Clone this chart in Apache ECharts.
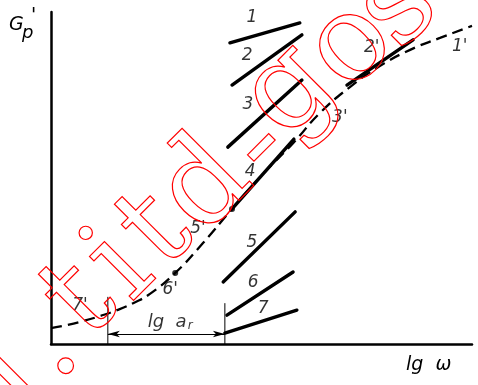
<!DOCTYPE html>
<html><head><meta charset="utf-8">
<script src="https://cdn.jsdelivr.net/npm/echarts@6/dist/echarts.min.js"></script>
<style>html,body{margin:0;padding:0;background:#fff}#c{width:478px;height:385px}</style>
</head><body><div id="c"></div>
<script>
// dashed reference curve (lg omega vs G'p), arbitrary units 0..10
const curveX = [0, 0.38, 0.76, 1.16, 1.57, 1.95, 2.35, 2.95, 3.61, 4.30, 5.01, 5.75, 6.39, 7.10, 7.81, 8.53, 9.24, 10.0];
const curveY = [0.48, 0.57, 0.69, 0.84, 1.02, 1.23, 1.51, 2.14, 3.04, 4.07, 5.09, 6.05, 6.96, 7.74, 8.37, 8.86, 9.22, 9.58];
// solid segments
const segNames = ['1', '2', '3', '4', '5', '6', '7', "2'"];
const segX = [[4.25, 5.91], [4.30, 5.96], [4.20, 5.96], [4.30, 5.77], [4.09, 5.80], [4.18, 5.75], [4.13, 5.84], [7.03, 8.60]];
const segY = [[9.07, 9.67], [7.80, 9.31], [5.93, 7.95], [4.07, 6.17], [1.87, 3.98], [0.87, 2.17], [0.33, 1.02], [7.80, 9.16]];
// marked points on the curve
const dotX = [2.95, 4.30];
const dotY = [2.14, 4.07];
// curve labels
const labelText = ['1', '2', '3', '4', '5', '6', '7', "1'", "2'", "3'", "5'", "6'", "7'"];
const labelX = [4.77, 4.66, 4.68, 4.73, 4.77, 4.80, 5.04, 9.71, 7.62, 6.86, 3.49, 2.83, 0.69];
const labelY = [9.82, 8.70, 7.20, 5.18, 3.04, 1.84, 1.08, 8.95, 8.92, 6.81, 3.49, 1.63, 1.17];
// lg a_r interval
const arX = [1.35, 4.13];
const arTop = [1.42, 1.23];
const arY = 0.30;
const arLabelX = 2.83, arLabelY = 0.66;

// watermark characters (decoration)
const wmChars = ['1', '.', 't', 'i', 't', 'd', '-', 'g', 'o', 's', 't'];
const wmPos = [[22, 388], [48, 348], [82, 302], [122, 268], [158, 232], [207, 188], [262, 148], [290, 92], [352, 47], [399, 9], [440, -30]];

const chart = echarts.init(document.getElementById('c'), null, {renderer: 'canvas'});
const series = [];
series.push({
  type: 'line', data: curveX.map((x, i) => [x, curveY[i]]), smooth: true, symbol: 'none',
  lineStyle: {color: '#000', width: 2.3, type: [11, 6]}, z: 2
});
segX.forEach((xs, k) => {
  series.push({
    type: 'line', name: segNames[k], data: xs.map((x, i) => [x, segY[k][i]]), symbol: 'none',
    lineStyle: {color: '#000', width: 3.4, cap: 'round'}, z: 3
  });
});
arX.forEach((x, k) => {
  series.push({type: 'line', data: [[x, 0], [x, arTop[k]]], symbol: 'none', lineStyle: {color: '#000', width: 1}, z: 3});
});
series.push({
  type: 'line', data: [], symbol: 'none',
  markLine: {
    silent: true, symbol: ['arrow', 'arrow'], symbolSize: [5, 12], label: {show: false},
    lineStyle: {color: '#000', width: 1, type: 'solid'},
    data: [[{coord: [arX[0], arY]}, {coord: [arX[1], arY]}]]
  }
});
series.push({
  type: 'scatter', data: dotX.map((x, i) => [x, dotY[i]]), symbol: 'circle', symbolSize: 6,
  itemStyle: {color: '#000'}, z: 4
});
series.push({
  type: 'scatter', symbolSize: 0, z: 5,
  data: labelText.map((t, i) => ({name: t, value: [labelX[i], labelY[i]]})),
  label: {show: true, position: 'inside', formatter: '{b}', color: '#000',
    fontFamily: 'DejaVu Sans', fontStyle: 'italic', fontSize: 17}
});
series.push({
  type: 'scatter', symbolSize: 0, z: 5,
  data: [{name: 'lg a', value: [arLabelX, arLabelY]}],
  label: {show: true, position: 'inside', formatter: '{m|lg  a}{s|r}', color: '#000',
    rich: {
      m: {fontFamily: 'DejaVu Sans', fontStyle: 'italic', fontSize: 18, color: '#000'},
      s: {fontFamily: 'DejaVu Sans', fontStyle: 'italic', fontSize: 12, color: '#000', verticalAlign: 'bottom', padding: [8, 0, 0, 1]}
    }}
});

const graphics = [
  {type: 'text', left: 9, top: 16, style: {text: 'G', font: 'italic 19px "DejaVu Sans"', fill: '#000'}},
  {type: 'text', left: 31, top: 7, style: {text: "'", font: 'italic 19px "DejaVu Sans"', fill: '#000'}},
  {type: 'text', left: 22, top: 24, style: {text: 'p', font: 'italic 18px "DejaVu Sans"', fill: '#000'}},
  {type: 'text', left: 406, top: 356, style: {text: 'lg  \u03c9', font: 'italic 19px "DejaVu Sans"', fill: '#000'}}
];
wmChars.forEach((ch, i) => {
  graphics.push({type: 'text', x: wmPos[i][0], y: wmPos[i][1], rotation: Math.PI / 4, z: 100, silent: true,
    style: {text: ch, font: '120px "DejaVu Serif"', fill: 'rgba(0,0,0,0)', stroke: '#ff0000', lineWidth: 1.2,
      align: 'center', verticalAlign: 'middle'}});
});

chart.setOption({
  animation: false,
  backgroundColor: '#fff',
  grid: {left: 51, right: 6, top: 12, bottom: 41},
  xAxis: {type: 'value', min: 0, max: 10, axisLine: {onZero: false, lineStyle: {color: '#000', width: 2.5}},
    axisTick: {show: false}, axisLabel: {show: false}, splitLine: {show: false}},
  yAxis: {type: 'value', min: 0, max: 10, axisLine: {show: true, onZero: false, lineStyle: {color: '#000', width: 2.5}},
    axisTick: {show: false}, axisLabel: {show: false}, splitLine: {show: false}},
  series: series,
  graphic: graphics
});
</script></body></html>
